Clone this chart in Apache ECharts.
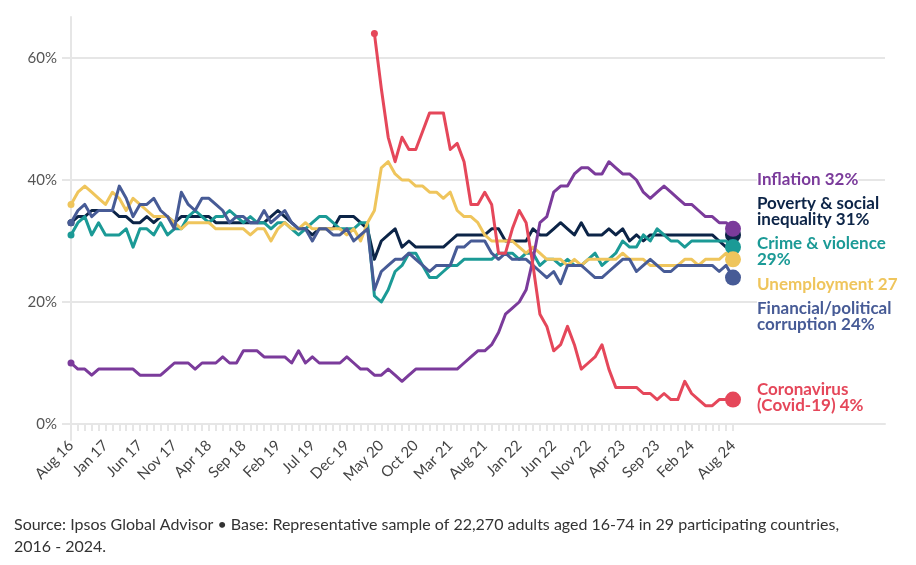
<!DOCTYPE html>
<html>
<head>
<meta charset="utf-8">
<script src="https://cdn.jsdelivr.net/npm/echarts@6/dist/echarts.min.js"></script>
<style>
html,body{margin:0;padding:0;background:#fff;}
#c{width:916px;height:565px;}
</style>
</head>
<body>
<div id="c"></div>
<script>
var months = ["Aug 16","Sep 16","Oct 16","Nov 16","Dec 16","Jan 17","Feb 17","Mar 17","Apr 17","May 17","Jun 17","Jul 17","Aug 17","Sep 17","Oct 17","Nov 17","Dec 17","Jan 18","Feb 18","Mar 18","Apr 18","May 18","Jun 18","Jul 18","Aug 18","Sep 18","Oct 18","Nov 18","Dec 18","Jan 19","Feb 19","Mar 19","Apr 19","May 19","Jun 19","Jul 19","Aug 19","Sep 19","Oct 19","Nov 19","Dec 19","Jan 20","Feb 20","Mar 20","Apr 20","May 20","Jun 20","Jul 20","Aug 20","Sep 20","Oct 20","Nov 20","Dec 20","Jan 21","Feb 21","Mar 21","Apr 21","May 21","Jun 21","Jul 21","Aug 21","Sep 21","Oct 21","Nov 21","Dec 21","Jan 22","Feb 22","Mar 22","Apr 22","May 22","Jun 22","Jul 22","Aug 22","Sep 22","Oct 22","Nov 22","Dec 22","Jan 23","Feb 23","Mar 23","Apr 23","May 23","Jun 23","Jul 23","Aug 23","Sep 23","Oct 23","Nov 23","Dec 23","Jan 24","Feb 24","Mar 24","Apr 24","May 24","Jun 24","Jul 24","Aug 24"];

var yTicks = [0, 20, 40, 60];

var inflation = [10,9,9,8,9,9,9,9,9,9,
  8,8,8,8,9,10,10,10,9,10,
  10,10,11,10,10,12,12,12,11,11,
  11,11,10,12,10,11,10,10,10,10,
  11,10,9,9,8,8,9,8,7,8,
  9,9,9,9,9,9,9,10,11,12,
  12,13,15,18,19,20,22,27,33,34,
  38,39,39,41,42,42,41,41,43,42,
  41,41,40,38,37,38,39,38,37,36,
  36,35,34,34,33,33,32];

var poverty = [33,34,34,35,35,35,35,34,34,33,
  33,34,33,34,34,33,34,34,34,34,
  34,33,33,33,33,33,33,33,33,34,
  35,34,33,32,32,31,32,32,32,34,
  34,34,33,32,27,30,31,32,29,30,
  29,29,29,29,29,30,31,31,31,31,
  31,32,32,30,30,30,30,32,31,31,
  32,33,32,31,33,31,31,31,32,31,
  32,30,31,30,31,31,31,31,31,31,
  31,31,31,31,30,29,31];

var crime = [31,33,34,31,33,31,31,31,32,29,
  32,32,31,33,31,32,32,34,35,34,
  33,34,34,35,34,33,34,33,33,32,
  33,33,32,31,32,33,34,34,33,32,
  32,32,33,33,21,20,22,25,26,28,
  28,26,24,24,25,26,26,27,27,27,
  27,27,28,28,28,27,28,28,26,27,
  27,26,27,26,26,27,28,26,27,28,
  30,29,29,31,30,32,31,30,30,29,
  30,30,30,30,30,30,29];

var unemployment = [36,38,39,38,37,36,38,37,35,37,
  36,35,34,34,34,33,32,33,33,33,
  33,32,32,32,32,32,31,32,32,30,
  32,33,32,32,33,32,32,32,32,32,
  31,32,30,33,35,42,43,41,40,40,
  39,39,38,38,37,38,35,34,34,33,
  31,30,30,30,30,29,28,29,28,27,
  27,27,26,27,26,27,27,27,27,27,
  28,27,27,27,26,26,26,26,26,27,
  27,26,27,27,27,28,27];

var corruption = [33,35,36,34,35,35,35,39,37,34,
  36,36,37,35,34,32,38,36,35,37,
  37,36,35,33,34,34,33,33,35,33,
  34,35,33,32,32,30,32,32,31,31,
  32,30,31,32,22,25,26,27,27,28,
  27,26,25,26,26,26,29,29,30,30,
  30,28,27,28,27,27,27,26,25,24,
  25,23,26,26,26,25,24,24,25,26,
  27,27,25,26,27,26,25,25,26,26,
  26,26,26,26,25,26,24];

var covid = [null,null,null,null,null,null,null,null,null,null,
  null,null,null,null,null,null,null,null,null,null,
  null,null,null,null,null,null,null,null,null,null,
  null,null,null,null,null,null,null,null,null,null,
  null,null,null,null,64,55,47,43,47,45,
  45,48,51,51,51,45,46,43,36,36,
  38,36,28,28,32,35,33,26,18,16,
  12,13,16,13,9,10,11,13,9,6,
  6,6,6,5,5,4,5,4,4,7,
  5,4,3,3,4,4,4];

var seriesNames = ["Poverty & social inequality","Crime & violence","Unemployment","Financial/political corruption","Inflation","Coronavirus (Covid-19)"];
var seriesColors = ["#0c2447","#1b9a96","#efc55c","#475b96","#7b3b9b","#e5475a"];
var seriesData = [poverty, crime, unemployment, corruption, inflation, covid];

var endLabels = [
  {lines:["Inflation 32%"], color:"#7b3b9b", y:[181]},
  {lines:["Poverty & social","inequality 31%"], color:"#0c2447", y:[205,221]},
  {lines:["Crime & violence","29%"], color:"#1b9a96", y:[245,261]},
  {lines:["Unemployment 27"], color:"#efc55c", y:[286]},
  {lines:["Financial/political","corruption 24%"], color:"#475b96", y:[310,326]},
  {lines:["Coronavirus","(Covid-19) 4%"], color:"#e5475a", y:[391,407]}
];

var sourceLines = ["Source: Ipsos Global Advisor \u2022 Base: Representative sample of 22,270 adults aged 16-74 in 29 participating countries,", "2016 - 2024."];

var gridGray = "#e6e6e6";
var FONT = "Lato, 'Source Sans Pro', 'Noto Sans', sans-serif";

function firstIdx(arr){ for (var i=0;i<arr.length;i++){ if (arr[i]!==null) return i; } return 0; }

var series = seriesData.map(function(arr, k){
  var f = firstIdx(arr), l = arr.length - 1;
  return {
    name: seriesNames[k],
    type: 'line',
    xAxisIndex: 1,
    yAxisIndex: 1,
    data: arr,
    symbol: 'circle',
    showSymbol: true,
    showAllSymbol: true,
    symbolSize: function(v, p){ return p.dataIndex === l ? 16 : (p.dataIndex === f ? 7 : 0); },
    clip: false,
    lineStyle: {width: 3, color: seriesColors[k], join: 'round'},
    itemStyle: {color: seriesColors[k], borderWidth: 0},
    emphasis: {disabled: true},
    z: 3 + k,
    connectNulls: false
  };
});

var graphics = [];
endLabels.forEach(function(lb){
  lb.lines.forEach(function(t, j){
    graphics.push({
      type: 'text', left: 757, top: lb.y[j] - 10, z: 100,
      style: {text: t, fill: lb.color, font: "bold 17px " + FONT, backgroundColor: '#fff'}
    });
  });
});
sourceLines.forEach(function(t, j){
  graphics.push({
    type: 'text', left: 14, top: 517 + j*22, z: 100,
    style: {text: t, fill: '#333', font: "16px " + FONT}
  });
});

var option = {
  animation: false,
  backgroundColor: '#fff',
  grid: [
    {left: 71, right: 31, top: 58, bottom: 141},
    {left: 71, right: 183, top: 58, bottom: 141},
    {left: 71, right: 183, top: 17, bottom: 125}
  ],
  xAxis: [
    {gridIndex: 0, type: 'value', min: 0, max: 1, offset: 9,
     axisLine: {show: true, lineStyle: {color: gridGray, width: 2}},
     axisTick: {show: false}, axisLabel: {show: false}, splitLine: {show: false}},
    {gridIndex: 1, type: 'category', data: months, boundaryGap: false, offset: 9,
     axisLine: {show: false},
     axisTick: {show: true, interval: 0, length: 7, lineStyle: {color: gridGray, width: 2}},
     axisLabel: {show: true, rotate: 45, margin: 10, color: '#444', fontSize: 15, fontFamily: FONT,
       interval: function(i){ return (i % 5 === 0 && i <= 90) || i === months.length - 1; }},
     splitLine: {show: false}},
    {gridIndex: 2, type: 'value', min: 0, max: 1, show: false}
  ],
  yAxis: [
    {gridIndex: 0, type: 'value', min: yTicks[0], max: yTicks[yTicks.length-1], interval: 20,
     axisLine: {show: false},
     axisTick: {show: true, length: 9, lineStyle: {color: gridGray, width: 2}},
     axisLabel: {show: true, margin: 14, color: '#555', fontSize: 15, fontFamily: FONT,
       formatter: function(v){ return v + '%'; }},
     splitLine: {show: true, lineStyle: {color: gridGray, width: 2}}},
    {gridIndex: 1, type: 'value', min: 0, max: 60, show: false},
    {gridIndex: 2, type: 'value', min: 0, max: 1,
     axisLine: {show: true, lineStyle: {color: gridGray, width: 2}},
     axisTick: {show: false}, axisLabel: {show: false}, splitLine: {show: false}}
  ],
  series: series,
  graphic: graphics
};

var chart = echarts.init(document.getElementById('c'), null, {renderer: 'canvas'});
chart.setOption(option);
</script>
</body>
</html>
